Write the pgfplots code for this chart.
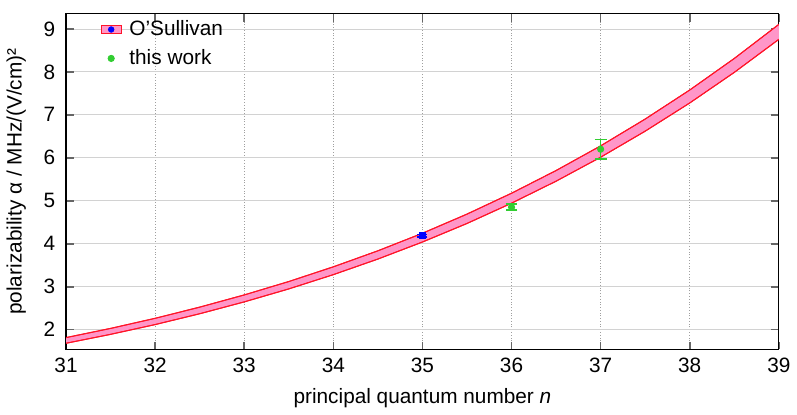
\documentclass[border=0pt]{standalone}
\usepackage{pgfplots}
\pgfplotsset{compat=1.18}
\usepgfplotslibrary{fillbetween}
\usepackage{fontspec}
\setmainfont{Liberation Sans}
\definecolor{bandpink}{RGB}{255,150,200}
\definecolor{bandred}{RGB}{255,20,40}
\definecolor{ptgreen}{RGB}{50,205,50}
\begin{document}
\begin{tikzpicture}
\begin{axis}[
  scale only axis,
  width=360pt, height=169.5pt,
  xmin=31, xmax=39, ymin=1.54, ymax=9.35,
  xtick={31,32,...,39}, ytick={2,3,...,9},
  grid=major,
  x grid style={gray!75, densely dotted},
  y grid style={gray!35},
  tick align=inside,
  major tick length=4pt,
  tick style={gray!80!black, thick},
  axis line style={black, semithick},
  font=\fontsize{10.5}{12.5}\selectfont,
  /pgf/number format/assume math mode=true,
  xlabel={principal quantum number \textit{n}},
  ylabel={polarizability α / MHz/(V/cm)²},
  yticklabel style={xshift=-2pt},
  xticklabel style={yshift=-1pt},
  xlabel style={yshift=-1pt},
  ylabel style={yshift=2pt},
  legend style={at={(0.04,1.005)}, anchor=north west, draw=none, fill=none,
    font=\fontsize{10.5}{12.5}\selectfont, row sep=1.5pt,
    nodes={inner xsep=4pt}},
  legend cell align=left,
]
\addplot[name path=U, bandred, line width=0.5pt, forget plot] coordinates {
(31,1.816) (31.5,2.030) (32,2.265) (32.5,2.525) (33,2.809) (33.5,3.121)
(34,3.463) (34.5,3.836) (35,4.244) (35.5,4.690) (36,5.176) (36.5,5.704)
(37,6.278) (37.5,6.902) (38,7.578) (38.5,8.312) (39,9.105)};
\addplot[name path=L, bandred, line width=0.5pt, forget plot] coordinates {
(31,1.684) (31.5,1.892) (32,2.119) (32.5,2.371) (33,2.647) (33.5,2.949)
(34,3.281) (34.5,3.644) (35,4.040) (35.5,4.472) (36,4.944) (36.5,5.456)
(37,6.014) (37.5,6.620) (38,7.276) (38.5,7.988) (39,8.757)};
\addplot[bandpink, forget plot] fill between[of=U and L];
\addplot[bandred, line width=0.5pt, forget plot] coordinates {
(31,1.816) (31.5,2.030) (32,2.265) (32.5,2.525) (33,2.809) (33.5,3.121)
(34,3.463) (34.5,3.836) (35,4.244) (35.5,4.690) (36,5.176) (36.5,5.704)
(37,6.278) (37.5,6.902) (38,7.578) (38.5,8.312) (39,9.105)};
\addplot[bandred, line width=0.5pt, forget plot] coordinates {
(31,1.684) (31.5,1.892) (32,2.119) (32.5,2.371) (33,2.647) (33.5,2.949)
(34,3.281) (34.5,3.644) (35,4.040) (35.5,4.472) (36,4.944) (36.5,5.456)
(37,6.014) (37.5,6.620) (38,7.276) (38.5,7.988) (39,8.757)};
\addlegendimage{legend image code/.code={
  \draw[draw=bandred, fill=bandpink] (2pt,-2.2pt) rectangle (12pt,2.2pt);
  \fill[blue] (7pt,0pt) circle (1.4pt);}}
\addlegendentry{O’Sullivan}
\addplot[blue, only marks, mark=square*, mark size=1.5pt, forget plot,
  error bars/.cd, y dir=both, y explicit,
  error bar style={blue, thick}, error mark options={blue, mark size=2.5pt, thick, rotate=90}]
  coordinates {(35,4.19) +- (0,0.03)};
\addplot[ptgreen, only marks, mark=*, mark size=1.6pt,
  legend image code/.code={\fill[ptgreen] (7pt,0pt) circle (1.6pt);},
  error bars/.cd, y dir=both, y explicit,
  error bar style={ptgreen, thick}, error mark options={ptgreen, mark size=3pt, thick, rotate=90}]
  coordinates {(36,4.85) +- (0,0.07) (37,6.20) +- (0,0.23)};
\addlegendentry{this work}
\end{axis}
\path ([yshift=7pt]current axis.north) coordinate (topextra);
\end{tikzpicture}
\end{document}
